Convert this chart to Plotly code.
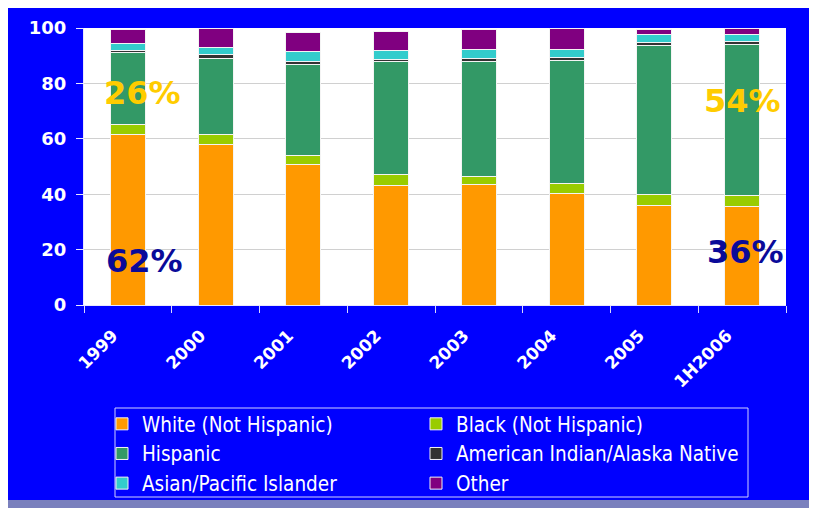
import plotly.graph_objects as go

years = ["1999", "2000", "2001", "2002", "2003", "2004", "2005", "1H2006"]
white = [61.7, 58.1, 50.8, 43.0, 43.4, 40.1, 36.0, 35.4]
black = [3.6, 3.6, 3.2, 4.0, 2.9, 3.7, 3.9, 4.2]
hispanic = [25.9, 27.3, 33.0, 41.0, 41.7, 44.6, 53.8, 54.5]
amind = [0.8, 1.5, 1.0, 0.7, 1.0, 0.9, 1.0, 1.0]
asian = [2.4, 2.6, 3.6, 3.2, 3.2, 2.9, 2.8, 2.4]
other = [5.2, 6.6, 6.7, 7.0, 7.4, 7.6, 2.1, 2.2]

# (name, values, colour, legend column)
series = [
    ("White (Not Hispanic)", white, "#FF9900", "legend"),
    ("Black (Not Hispanic)", black, "#99CC00", "legend2"),
    ("Hispanic", hispanic, "#339966", "legend"),
    ("American Indian/Alaska Native", amind, "#333333", "legend2"),
    ("Asian/Pacific Islander", asian, "#33CCCC", "legend"),
    ("Other", other, "#800080", "legend2"),
]

callouts = [
    ("26%", 0.083, 76.6, "#FFCC00"),
    ("62%", 0.086, 15.9, "#0A0A99"),
    ("54%", 0.938, 73.7, "#FFCC00"),
    ("36%", 0.942, 19.2, "#0A0A99"),
]

# plot area in figure pixels
L, T, W, H = 76, 20, 702, 277
B = T + H


def px(x):
    return (x - L) / W


def py(y):
    return (B - y) / H


fig = go.Figure()
for name, vals, col, leg in series:
    fig.add_trace(go.Bar(
        x=years, y=vals, name=name, legend=leg,
        marker=dict(color=col, line=dict(color="#F4F4F4", width=1)),
    ))

for txt, xp, yv, col in callouts:
    fig.add_annotation(
        text=txt, x=xp, y=yv, xref="paper", yref="y", showarrow=False,
        font=dict(family="DejaVu Sans", size=32, color=col, weight="bold"),
        xanchor="center", yanchor="middle",
    )

# blue slide panel
fig.add_shape(type="rect", xref="paper", yref="paper",
              x0=px(0), x1=px(805), y0=py(492), y1=py(-2),
              fillcolor="#0000FF", line=dict(width=0), layer="below")
# white plot area
fig.add_shape(type="rect", xref="paper", yref="paper",
              x0=0, x1=1, y0=0, y1=1,
              fillcolor="white", line=dict(width=0), layer="below")
# legend frame
fig.add_shape(type="rect", xref="paper", yref="paper",
              x0=px(107), x1=px(740), y0=py(489), y1=py(400),
              fillcolor="rgba(0,0,0,0)", line=dict(width=1, color="#D0D0FF"),
              layer="below")

legfont = dict(family="DejaVu Sans Condensed, DejaVu Sans", size=20.5, color="white")
legcommon = dict(
    orientation="v", traceorder="normal", yanchor="top", xanchor="left",
    y=py(396), bgcolor="rgba(0,0,0,0)", borderwidth=0, font=legfont,
    tracegroupgap=0,
)

fig.update_layout(
    width=817, height=508,
    margin=dict(l=L, r=817 - L - W, t=T, b=508 - B, autoexpand=False),
    paper_bgcolor="#7A80BD",
    plot_bgcolor="white",
    barmode="stack",
    bargap=0.6,
    showlegend=True,
    legend=dict(x=px(94), **legcommon),
    legend2=dict(x=px(408), **legcommon),
    xaxis=dict(
        tickangle=-45, tickson="boundaries", ticks="outside", ticklen=7,
        tickcolor="#D8D8FF", showline=True, linecolor="#E8E8FF", linewidth=1,
        tickfont=dict(family="DejaVu Sans", size=17, color="white", weight="bold"),
        ticklabelstandoff=13, ticklabelshift=-15,
        automargin=False,
    ),
    yaxis=dict(
        range=[0, 100], dtick=20, ticks="outside", ticklen=7, tickcolor="#E8E8FF",
        showgrid=True, gridcolor="#D0D0D0", zeroline=False,
        showline=True, linecolor="#E8E8FF", automargin=False,
        ticklabelstandoff=6,
        tickfont=dict(family="DejaVu Sans", size=18, color="white", weight="bold"),
    ),
)

fig.write_html("out.html")
